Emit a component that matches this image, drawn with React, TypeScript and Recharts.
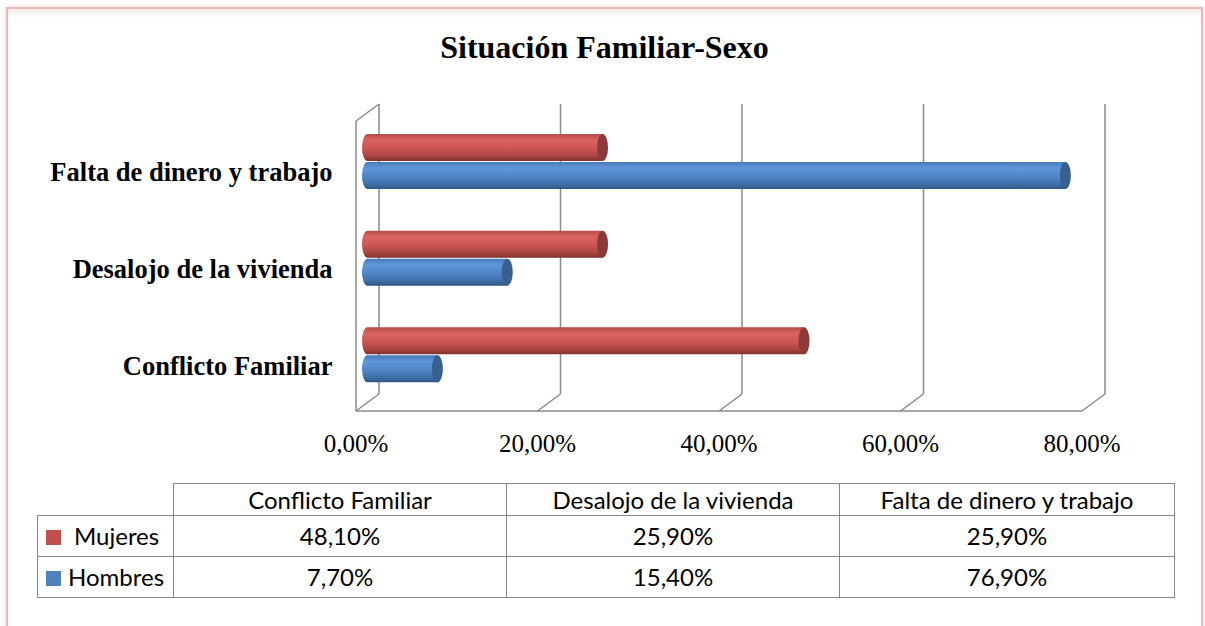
import React from "react";
import { Bar, BarChart, CartesianGrid, ReferenceArea, XAxis, YAxis } from "recharts";

const categories = ["Conflicto Familiar", "Desalojo de la vivienda", "Falta de dinero y trabajo"];
const mujeres = [48.1, 25.9, 25.9];
const hombres = [7.7, 15.4, 76.9];
const xTicks = [0, 20, 40, 60, 80];
const seriesNames = ["Mujeres", "Hombres"];
const seriesColors = ["#c0504d", "#4f81bd"];

const data = categories.map((name, i) => ({ name, mujeres: mujeres[i], hombres: hombres[i] }));

// fake 3D depth offset (back wall vs front floor)
const DX = 11.5;
const DY = 9;
const GRID = "#8a8a8a";
const SERIF = "'Liberation Serif', 'Times New Roman', serif";
const SANS = "Lato, 'Open Sans', sans-serif";

const fmtPct = (v: number) => `${v.toFixed(2).replace(".", ",")}%`;

const gradients: Record<string, string[][]> = {
  red: [["0", "#b44c49"], ["0.22", "#da625f"], ["0.5", "#cf5855"], ["0.82", "#a94442"], ["1", "#7e3230"]],
  blue: [["0", "#4879b6"], ["0.22", "#5e97da"], ["0.5", "#5088cb"], ["0.82", "#3f6ea8"], ["1", "#2f5683"]],
};
const caps: Record<string, string> = { red: "#8c3937", blue: "#375f8f" };

function Cylinder(p: any) {
  const { x, y, width, height, kind, index } = p;
  if (!height) return null;
  const rx = 5.5;
  const ry = height / 2;
  const id = `g-${kind}-${index}`;
  const d = `M ${x} ${y} L ${x + width} ${y} L ${x + width} ${y + height} L ${x} ${y + height} A ${rx} ${ry} 0 0 1 ${x} ${y} Z`;
  return (
    <g>
      <defs>
        <linearGradient id={id} x1="0" y1="0" x2="0" y2="1">
          {gradients[kind].map(([o, c]) => (
            <stop key={o} offset={o} stopColor={c} />
          ))}
        </linearGradient>
      </defs>
      <path d={d} fill={`url(#${id})`} />
      <ellipse cx={x + width} cy={y + ry} rx={rx} ry={ry} fill={caps[kind]} />
    </g>
  );
}

function gridLine(p: any) {
  const { x1, y1, y2, index } = p;
  return (
    <g key={`v-${index}-${x1}`}>
      <line x1={x1 + DX} y1={y1 - DY} x2={x1 + DX} y2={y2 - DY} stroke={GRID} strokeWidth={1.5} />
      <line x1={x1 + DX} y1={y2 - DY} x2={x1 - DX} y2={y2 + DY - 1} stroke={GRID} strokeWidth={1.5} />
    </g>
  );
}

function Walls(p: any) {
  const { x, y, width, height } = p;
  const fx = x - DX;
  const fy = y + height + DY - 1;
  return (
    <g>
      <line x1={fx} y1={y + DY - 1} x2={fx} y2={fy} stroke={GRID} strokeWidth={1.5} />
      <line x1={fx} y1={y + DY - 1} x2={x + DX} y2={y - DY} stroke={GRID} strokeWidth={1.5} />
      <line x1={fx} y1={fy} x2={x + width - DX} y2={fy} stroke={GRID} strokeWidth={1.5} />
    </g>
  );
}

function XTick(p: any) {
  const { x, y, payload } = p;
  return (
    <text x={x - DX} y={y + 49} textAnchor="middle" fontFamily={SERIF} fontSize={25} fill="#000">
      {fmtPct(payload.value)}
    </text>
  );
}

function YTick(p: any) {
  const { x, y, payload } = p;
  return (
    <text x={x} y={y + 20} textAnchor="end" fontFamily={SERIF} fontSize={26.5} fontWeight="bold" fill="#000">
      {payload.value}
    </text>
  );
}

const cell: React.CSSProperties = {
  border: "1.5px solid #878787",
  padding: 0,
  textAlign: "center",
  fontFamily: SANS,
  fontSize: 24,
  lineHeight: "24px",
  color: "#000",
};

export default function App() {
  return (
    <div style={{ position: "absolute", left: 0, top: 0, width: 1205, height: 626, overflow: "hidden", background: "#fff" }}>
      <div
        style={{
          position: "absolute",
          left: 6,
          top: 7,
          width: 1197,
          height: 660,
          boxSizing: "border-box",
          border: "2px solid #e8b9b8",
          boxShadow: "0 0 6px #f3d6d6, inset 0 8px 10px -6px #f5dddd",
        }}
      />
      <div
        style={{
          position: "absolute",
          left: 0,
          top: 32,
          width: 1209,
          textAlign: "center",
          fontFamily: SERIF,
          fontWeight: "bold",
          fontSize: 32,
          lineHeight: "31px",
        }}
      >
        Situación Familiar-Sexo
      </div>
      <div style={{ position: "absolute", left: 0, top: 0 }}>
        <BarChart
          width={1205}
          height={626}
          data={data}
          layout="vertical"
          margin={{ top: 113, right: 111.5, bottom: 183, left: 0 }}
          barSize={27}
          barGap={1}
        >
          <CartesianGrid horizontal={false} vertical={gridLine} />
          <ReferenceArea x1={0} x2={80} shape={Walls} fill="none" ifOverflow="visible" />
          <XAxis
            type="number"
            domain={[0, 80]}
            ticks={xTicks}
            height={40}
            axisLine={false}
            tickLine={false}
            tickSize={0}
            tickMargin={0}
            tick={XTick}
          />
          <YAxis
            type="category"
            dataKey="name"
            reversed
            width={367.5}
            axisLine={false}
            tickLine={false}
            tickSize={0}
            tickMargin={35}
            tick={YTick}
          />
          <Bar dataKey="mujeres" name={seriesNames[0]} fill={seriesColors[0]} isAnimationActive={false} shape={(p: any) => <Cylinder {...p} kind="red" />} />
          <Bar dataKey="hombres" name={seriesNames[1]} fill={seriesColors[1]} isAnimationActive={false} shape={(p: any) => <Cylinder {...p} kind="blue" />} />
        </BarChart>
      </div>
      <table
        style={{
          position: "absolute",
          left: 37,
          top: 483,
          width: 1137,
          borderCollapse: "collapse",
          tableLayout: "fixed",
        }}
      >
        <colgroup>
          <col style={{ width: 136 }} />
          <col style={{ width: 333 }} />
          <col style={{ width: 333 }} />
          <col style={{ width: 335 }} />
        </colgroup>
        <tbody>
          <tr style={{ height: 32 }}>
            <td style={{ ...cell, border: "none" }} />
            {categories.map((c) => (
              <td key={c} style={cell}>{c}</td>
            ))}
          </tr>
          {[mujeres, hombres].map((vals, r) => (
            <tr key={seriesNames[r]} style={{ height: 41 }}>
              <td style={{ ...cell, textAlign: "left", whiteSpace: "nowrap" }}>
                <span style={{ display: "inline-block", width: 15, height: 15, background: seriesColors[r], marginLeft: 8, marginRight: r === 0 ? 13 : 7 }} />
                {seriesNames[r]}
              </td>
              {vals.map((v, i) => (
                <td key={categories[i]} style={cell}>{fmtPct(v)}</td>
              ))}
            </tr>
          ))}
        </tbody>
      </table>
    </div>
  );
}
